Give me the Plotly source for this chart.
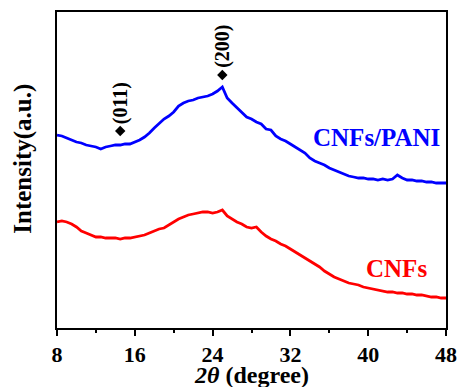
import numpy as np
import plotly.graph_objects as go

two_theta = [8.0 + 0.5 * i for i in range(81)]

cnfs_pani = [193, 192, 190, 188, 186, 185, 183, 182, 181, 179,
             181, 182, 183, 183, 184, 184, 186, 188, 191, 195,
             200, 205, 209, 212, 216, 222, 225, 227, 228, 230,
             231, 232, 234, 237, 241, 230, 225, 220, 215, 211,
             209, 206, 204, 199, 198, 192, 189, 187, 184, 181,
             178, 175, 170, 167, 165, 163, 160, 158, 156, 154,
             152, 151, 150, 150, 149, 149, 148, 149, 148, 149,
             153, 150, 148, 148, 147, 147, 146, 146, 145, 145, 145]

cnfs = [106, 107, 106, 104, 101, 97, 95, 93, 91, 91,
        90, 90, 90, 89, 90, 90, 91, 92, 93, 95,
        97, 99, 100, 103, 106, 109, 111, 113, 114, 115,
        116, 116, 115, 116, 118, 112, 109, 106, 104, 101,
        100, 101, 96, 92, 89, 87, 84, 82, 79, 76,
        73, 70, 67, 64, 61, 57, 54, 51, 49, 47,
        45, 44, 43, 41, 40, 39, 38, 37, 36, 36,
        35, 35, 34, 34, 33, 33, 32, 31, 31, 30, 30]

peak_pos = [14.5, 25.0]
peak_int = [197, 253]
peak_labels = ["(011)", "(200)"]

x_ticks = [8, 16, 24, 32, 40, 48]

FONT = "Liberation Serif, Times New Roman, serif"

fig = go.Figure()
fig.add_trace(go.Scatter(x=two_theta, y=cnfs, mode="lines",
                         line=dict(color="#ff0000", width=2.8), showlegend=False))
fig.add_trace(go.Scatter(x=two_theta, y=cnfs_pani, mode="lines",
                         line=dict(color="#0000ff", width=2.8), showlegend=False))
fig.add_trace(go.Scatter(x=peak_pos, y=peak_int, mode="markers",
                         marker=dict(symbol="diamond", size=8, color="black"),
                         showlegend=False))

for xp, yp, lab in zip(peak_pos, peak_int, peak_labels):
    fig.add_annotation(x=xp, y=yp, text="<b>%s</b>" % lab, textangle=-90,
                       showarrow=False, yanchor="bottom", yshift=5,
                       font=dict(family=FONT, size=20, color="black"))

fig.add_annotation(x=40.9, y=191, text="<b>CNFs/PANI</b>", showarrow=False,
                   font=dict(family=FONT, size=25, color="#0000ff"))
fig.add_annotation(x=42.86, y=60, text="<b>CNFs</b>", showarrow=False,
                   font=dict(family=FONT, size=25, color="#ff0000"))

fig.add_annotation(x=0.5, xref="paper", y=-0.148, yref="paper", yanchor="middle",
                   text="<b><i>2θ</i> (degree)</b>", showarrow=False,
                   font=dict(family=FONT, size=24, color="black"))
fig.add_annotation(x=-0.088, xref="paper", y=0.535, yref="paper", textangle=-90,
                   xanchor="center", yanchor="middle",
                   text="<b>Intensity(a.u.)</b>", showarrow=False,
                   font=dict(family=FONT, size=25, color="black"))

fig.update_layout(
    width=461, height=387,
    margin=dict(l=57, r=15, t=12, b=59, autoexpand=False),
    paper_bgcolor="white", plot_bgcolor="white",
    xaxis=dict(range=[8, 48], tickvals=x_ticks, ticktext=[str(t) for t in x_ticks],
               ticks="outside", ticklen=6, tickwidth=2, tickcolor="black",
               minor=dict(ticks="outside", ticklen=3, tickwidth=2, tickcolor="black", dtick=4),
               showline=True, linewidth=2, linecolor="black", mirror=True,
               showgrid=False, zeroline=False, automargin=False,
               tickfont=dict(family=FONT, size=22, color="black", weight="bold")),
    yaxis=dict(range=[0, 316], showticklabels=False, ticks="",
               showline=True, linewidth=2, linecolor="black", mirror=True,
               showgrid=False, zeroline=False, automargin=False),
)

fig.write_html("out.html")
